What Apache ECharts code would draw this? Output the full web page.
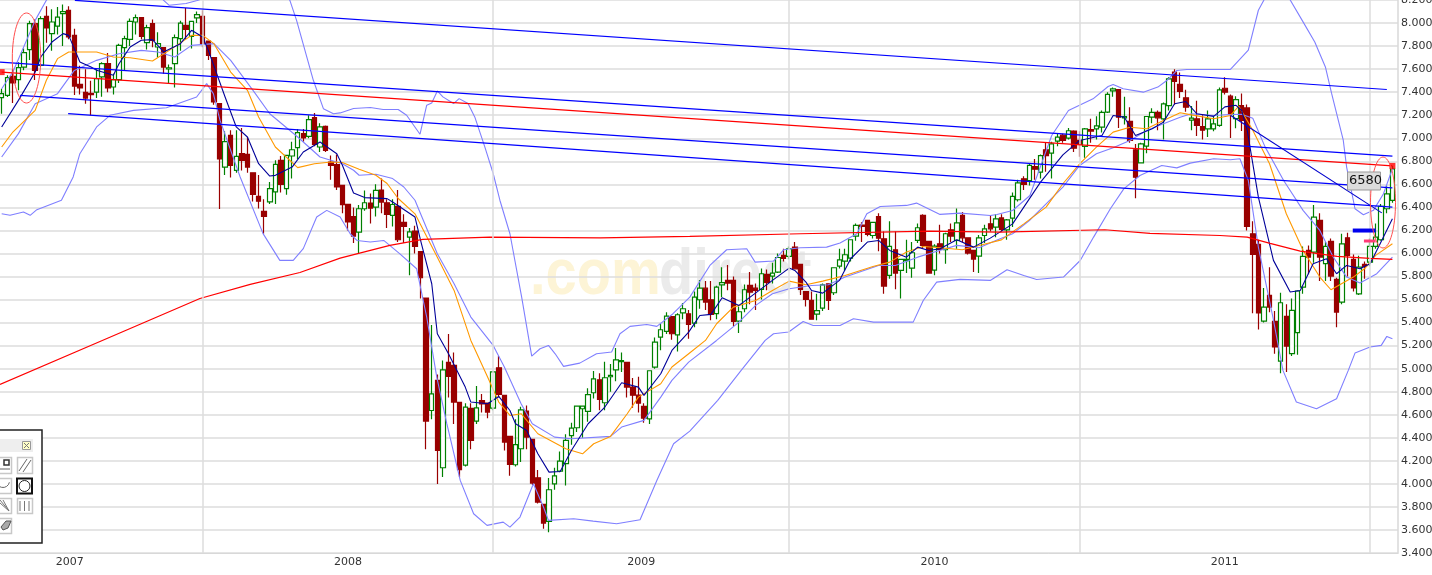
<!DOCTYPE html>
<html><head><meta charset="utf-8"><style>html,body{margin:0;padding:0;background:#fff;overflow:hidden}#c{width:1432px;height:575px}</style>
<script src="https://cdn.jsdelivr.net/npm/echarts@6/dist/echarts.min.js"></script></head><body><div id="c"></div>
<script>
// weekly candles: open, close, low, high
const candles=[
[7352,7387,7213,7430],[7373,7526,7358,7546],[7537,7480,7306,7600],[7508,7613,7416,7660],[7618,7743,7590,7780],[7769,7995,7680,8020],[7995,7590,7506,8030],[7633,8038,7620,8060],[8058,7957,7830,8145],[7908,8009,7760,8120],
[7974,8052,7900,8140],[8081,8099,7800,8160],[8110,7879,7860,8145],[7893,7453,7375,7950],[7468,7436,7380,7630],[7398,7349,7300,7600],[7390,7378,7200,7500],[7401,7517,7350,7600],[7532,7647,7360,7660],[7647,7436,7400,7740],
[7445,7508,7380,7560],[7508,7806,7480,7820],[7786,7864,7590,7890],[7859,8015,7800,8040],[8009,8047,7900,8075],[8047,7885,7860,8047],[7830,7960,7770,7985],[7995,7850,7790,8030],[7792,7821,7700,7920],[7786,7618,7560,7786],
[7601,7612,7470,7640],[7647,7873,7440,7900],[7864,8000,7760,8020],[7980,7945,7860,8130],[7884,8015,7780,8015],[8044,8073,8000,8100],[8058,7821,7790,8110],[7844,7720,7680,7844],[7700,7315,7290,7700],[7300,6820,6385,7300],
[6750,6970,6680,7060],[7025,6765,6660,7070],[6722,6843,6700,7070],[6866,6808,6720,7090],[6860,6750,6700,7010],[6700,6513,6450,6700],[6496,6453,6390,6680],[6366,6322,6170,6470],[6447,6562,6430,6620],[6534,6774,6430,6810],
[6808,6600,6530,6845],[6562,6852,6510,6852],[6846,6900,6650,6970],[6918,7048,6820,7080],[7040,7002,6970,7080],[7017,7161,7000,7200],[7179,6947,6930,7220],[6924,7098,6880,7130],[7103,6895,6880,7110],[6794,6765,6640,6850],
[6771,6577,6550,6860],[6591,6424,6350,6590],[6426,6273,6200,6426],[6321,6151,6090,6400],[6185,6388,5995,6420],[6388,6440,6370,6547],[6437,6394,6260,6520],[6402,6547,6320,6600],[6550,6446,6350,6650],[6440,6339,6220,6470],
[6330,6425,6235,6470],[6408,6119,6100,6550],[6270,6235,6090,6340],[6142,6188,5810,6220],[6194,6061,6000,6240],[6017,5789,5610,6017],[5613,4545,4300,5613],[4637,4782,4560,5380],[4898,4290,4000,4950],[4140,4990,4060,5070],
[5054,4933,4750,5300],[5028,4710,4520,5140],[4707,4123,4060,4707],[4163,4667,4150,4700],[4655,4377,4300,4700],[4545,4660,4520,4850],[4722,4695,4620,4780],[4701,4623,4570,4701],[4658,4973,4640,4973],[5008,4776,4750,5110],
[4768,4363,4290,4768],[4412,4169,4070,4412],[4166,4340,4150,4560],[4305,4643,4190,4670],[4632,4406,4300,4680],[4386,4007,3990,4386],[4053,3842,3830,4120],[3822,3660,3610,3822],[3674,3949,3580,4050],[4000,4070,3950,4140],
[4111,4198,4100,4280],[4175,4377,3985,4430],[4418,4484,4340,4530],[4487,4675,4450,4675],[4652,4675,4400,4675],[4629,4774,4540,4830],[4791,4912,4740,4980],[4904,4733,4640,4960],[4704,4921,4640,5060],[4930,4941,4800,5040],
[4990,5077,4890,5180],[5060,5069,4970,5140],[5054,4840,4750,5054],[4840,4770,4660,4920],[4770,4701,4620,4930],[4672,4571,4530,4700],[4565,4982,4520,4982],[5014,5231,5000,5270],[5274,5338,5160,5390],[5323,5456,5300,5490],
[5453,5303,5250,5453],[5294,5468,5150,5480],[5485,5520,5430,5570],[5476,5384,5260,5510],[5396,5621,5360,5670],[5598,5699,5520,5770],[5699,5578,5510,5760],[5598,5471,5420,5760],[5477,5708,5430,5720],[5728,5746,5620,5880],
[5766,5743,5680,5900],[5766,5410,5370,5800],[5413,5494,5310,5540],[5520,5685,5490,5730],[5723,5665,5560,5840],[5699,5679,5510,5740],[5688,5824,5600,5870],[5818,5749,5680,5860],[5803,5830,5740,5920],[5838,5965,5830,6000],
[5983,5957,5930,6040],[5974,6041,5950,6060],[6055,5867,5860,6100],[5905,5688,5640,5905],[5670,5601,5540,5670],[5592,5430,5430,5670],[5474,5503,5420,5650],[5526,5728,5500,5740],[5737,5592,5510,5740],[5659,5876,5640,5880],
[5890,5945,5870,6040],[5934,5989,5850,6040],[5960,6119,5930,6119],[6151,6243,6110,6260],[6246,6235,6100,6270],[6287,6165,6150,6290],[6156,6269,6130,6270],[6321,6133,6020,6350],[6127,5717,5650,6190],[5809,6061,5780,6280],
[6032,5830,5690,6190],[5853,5948,5610,5950],[5937,5948,5830,6120],[5873,6006,5790,6100],[6113,6223,6090,6260],[6330,6070,6040,6340],[6105,5830,5830,6105],[5856,6064,5810,6080],[6084,6035,6000,6250],[6032,6171,5910,6180],
[6206,6151,6100,6260],[6113,6266,6040,6390],[6330,6136,6100,6360],[6136,6003,5990,6136],[6026,5951,5840,6026],[5977,6136,5830,6160],[6156,6214,6090,6250],[6257,6214,6190,6330],[6228,6301,6140,6340],[6308,6208,6190,6340],
[6205,6292,6120,6300],[6307,6495,6230,6530],[6466,6613,6450,6640],[6648,6599,6550,6670],[6633,6764,6590,6780],[6755,6732,6640,6820],[6706,6850,6650,6860],[6900,6850,6710,6960],[6871,6952,6650,6970],[6975,7010,6930,7040],
[7027,6981,6960,7040],[7001,7065,6990,7090],[7062,6914,6880,7070],[6981,6946,6840,7060],[6929,7082,6830,7090],[7076,7062,6960,7170],[7082,7108,6990,7190],[7096,7224,7050,7240],[7227,7380,7220,7400],[7412,7429,7360,7440],
[7423,7183,7090,7423],[7177,7189,7120,7360],[7146,6981,6960,7270],[6900,6662,6480,6950],[6787,6952,6780,6960],[6931,7189,6870,7190],[7183,7224,7130,7260],[7224,7177,7070,7240],[7169,7299,6990,7310],[7284,7516,7240,7530],
[7574,7493,7290,7600],[7467,7406,7350,7570],[7351,7270,7230,7420],[7157,7175,7070,7280],[7169,7111,7020,7325],[7102,7070,6990,7200],[7082,7169,7010,7240],[7082,7125,7060,7190],[7111,7420,7100,7440],[7434,7400,7380,7530],
[7365,7214,7003,7380],[7171,7336,7087,7365],[7284,7156,7063,7388],[7263,6235,6200,7293],[6171,5992,5480,6280],[6079,5483,5340,6120],[5413,5534,5400,5700],[5636,5535,5490,5880],[5410,5188,5130,5500],[5066,5572,4960,5660],
[5454,5196,4970,5560],[5130,5506,5110,5610],[5312,5674,5120,5680],[5708,5974,5650,6060],[6027,5969,5820,6070],[6012,6316,5920,6420],[6287,5969,5760,6350],[5911,6061,5760,6100],[6105,5804,5760,6130],[5775,5491,5360,5790],
[5578,6084,5560,6170],[6136,5983,5800,6180],[5948,5700,5670,5990],[5650,5882,5640,5980],[5905,5888,5780,5930],[5925,6061,5890,6130],[6061,6142,6040,6260],[6119,6408,6110,6430],[6388,6518,6350,6590],[6461,6735,6440,6760]
];
// overlays: [week, value] read at turning points
const fastMA=[[0,7098],[3,7329],[6,7575],[7,7705],[9,7835],[11,7908],[12,7893],[13,7778],[14,7662],[16,7618],[17,7590],[20,7546],[21,7647],[23,7792],[25,7850],[27,7856],[29,7749],[32,7821],[34,7937],[36,7879],[37,7763],[40,7358],[42,7098],[44,7011],[46,6779],[48,6672],[49,6678],[52,6750],[54,6881],[57,6967],[60,6866],[61,6766],[63,6525],[65,6485],[69,6476],[70,6446],[74,6316],[75,6113],[77,5737],[78,5303],[80,5129],[83,4840],[84,4710],[87,4695],[89,4759],[91,4637],[92,4522],[94,4464],[96,4261],[98,4102],[100,4108],[102,4290],[105,4522],[108,4667],[111,4878],[114,4840],[115,4768],[118,4956],[120,5158],[123,5317],[125,5462],[127,5471],[129,5615],[132,5549],[134,5621],[138,5766],[141,5873],[142,5853],[144,5751],[145,5679],[147,5656],[150,5766],[152,5954],[155,6099],[157,6113],[159,6026],[162,5968],[164,6055],[166,6026],[168,6041],[171,6119],[174,6055],[177,6133],[179,6194],[181,6257],[186,6619],[190,6856],[193,6981],[197,7024],[199,7198],[201,7183],[203,7024],[206,7082],[208,7140],[210,7299],[212,7319],[214,7212],[217,7190],[219,7272],[221,7286],[222,7243],[223,7070],[224.5,6635],[225,6489],[227.7,5940],[230.7,5665],[232.5,5679],[234.8,5911],[237.2,5954],[239,5824],[240.8,5896],[243.2,5867],[245,5911],[246.8,6084],[249,6301]];
const slowMA=[[0,6924],[2,7054],[6,7242],[8,7503],[10,7691],[12,7749],[17,7749],[20,7705],[23,7699],[27,7670],[30,7763],[34,7893],[36,7893],[38,7821],[41,7575],[44,7416],[46,7184],[49,6924],[53,6745],[56,6779],[59,6794],[61,6789],[64,6731],[67,6679],[69,6607],[71,6477],[74,6344],[78,5968],[81,5679],[84,5245],[87,4927],[89,4710],[91,4594],[93,4609],[96,4435],[101,4305],[104,4261],[106,4348],[109,4412],[112,4609],[114,4753],[118,4869],[120,5014],[123,5129],[126,5245],[128,5390],[131,5534],[135,5592],[138,5679],[141,5760],[144,5728],[147,5760],[151,5809],[156,5887],[159,5925],[162,6012],[165,6061],[168,6049],[172,6032],[175,6069],[179,6118],[183,6257],[187,6402],[190,6605],[193,6778],[196,6923],[199,7053],[202,7096],[205,7082],[208,7154],[211,7221],[213,7203],[217,7169],[220,7198],[221.5,7278],[224,7070],[227,6779],[230,6345],[233,6027],[236,5795],[238,5685],[242,5795],[244,5867],[246,5983],[249,6084]];
const midBand=[[0,6837],[3,7040],[6,7300],[10,7387],[13,7589],[17,7676],[21,7734],[25,7763],[28,7749],[31,7705],[34,7806],[38,7821],[41,7676],[45,7416],[48,7213],[53,7011],[57,6837],[61,6779],[63,6722],[64,6679],[67,6688],[70,6650],[72,6577],[74,6462],[75,6344],[78,5997],[81,5737],[84,5448],[88,5202],[90,5014],[93,4695],[95,4522],[99,4406],[102,4392],[109,4412],[111,4493],[115,4551],[118,4753],[120,4898],[123,5057],[128,5245],[132,5404],[135,5549],[138,5650],[141,5693],[145,5722],[148,5728],[151,5795],[157,5896],[160,5896],[164,5968],[167,6012],[171,6070],[175,6049],[178,6113],[181,6171],[184,6286],[187,6431],[190,6576],[193,6764],[196,6865],[199,6917],[202,6981],[205,7067],[208,7125],[211,7183],[213,7212],[217,7198],[220,7206],[222,7208],[224,7173],[226.2,6925],[229.5,6635],[233,6374],[236,6200],[238.4,5969],[240.8,5795],[243.2,5743],[246.2,5824],[249,5969]];
const upperBand=[[0,7430],[2,7575],[6,8023],[8,8197],[12,8500],[20,8550],[27,8300],[29,8197],[30,8154],[33,8170],[35,8195],[37,8230],[42,8400],[48,8400],[51.6,8197],[52.8,8023],[55.8,7503],[57.6,7257],[59.4,7213],[60.6,7220],[63,7258],[66,7267],[68.3,7249],[71,7249],[72.5,7200],[74.9,7035],[76.1,7287],[77,7306],[78,7411],[79,7359],[80.9,7301],[81.9,7344],[83.5,7301],[84.7,7185],[86.5,6925],[88,6694],[89.2,6462],[91,6171],[93.1,5621],[94.9,5109],[96.4,5173],[97.9,5202],[99.1,5129],[100.6,5020],[103.5,5048],[106.5,5129],[109.2,5144],[110.7,5303],[112.5,5367],[115.5,5384],[117.3,5367],[120.2,5477],[123.2,5621],[126.8,5896],[129.8,6032],[133.4,6041],[134.9,5925],[138.2,5934],[140,6032],[143,6049],[147.7,6055],[150.1,6090],[153.1,6171],[154.9,6344],[157.3,6408],[162,6417],[163.8,6437],[168,6339],[171.6,6350],[177,6330],[178.2,6338],[181,6373],[184.1,6503],[188,7024],[191,7241],[195.4,7342],[198.1,7449],[199,7467],[200.8,7429],[204.4,7400],[207,7444],[208.6,7501],[210.4,7588],[212.2,7597],[220,7597],[223.2,7764],[225,8111],[226,8200],[229,8500],[230.7,8200],[233,8010],[235.1,7836],[237,7619],[238.1,7391],[240.2,6983],[240.8,6750],[242.3,6388],[243.8,6336],[245.6,6374],[247.4,6518],[249,6735]];
const lowerBand=[[0,6345],[1.5,6331],[3.9,6360],[5.1,6331],[6.3,6380],[10.7,6461],[12.8,6664],[14,6866],[17,7098],[19.4,7199],[23.6,7242],[29.5,7265],[34.9,7358],[36.7,7474],[37.9,7387],[39.1,7155],[42.7,6664],[46.8,6172],[49.8,5940],[52.2,5940],[54,6042],[56.4,6317],[58.2,6374],[60.6,6317],[62.4,6171],[63.6,6113],[66,6099],[68.4,6113],[71.3,5997],[74.3,5867],[76.1,5448],[77.9,4927],[79.7,4522],[82.1,4030],[84.5,3741],[86.9,3640],[89.8,3668],[91,3625],[92.8,3712],[95.2,4001],[97,3799],[97.9,3683],[102.4,3697],[105.9,3677],[110.1,3654],[114.3,3689],[117.3,4030],[120.3,4348],[123.2,4458],[128.2,4725],[132.4,4985],[136.7,5245],[138.2,5303],[140.9,5318],[143.5,5410],[145.3,5375],[150.1,5375],[152.5,5433],[156.1,5404],[163.2,5404],[165,5592],[167.4,5751],[171.6,5775],[177,5766],[180,5858],[183,5809],[185.3,5774],[190.1,5795],[193.1,5939],[195.5,6142],[198.5,6388],[200.9,6561],[203.8,6677],[207.7,6764],[210.4,6743],[212.8,6784],[217,6822],[220,6813],[221.7,6822],[223.2,6634],[225,6055],[227.6,5448],[229.4,4985],[231.8,4710],[235.4,4652],[239,4739],[241.1,4985],[242.3,5135],[245,5188],[247,5202],[248,5280],[249,5260]];
const longMA=[[-0.3,4863],[17.6,5236],[35.5,5609],[44.5,5731],[53.4,5835],[60.6,5959],[69.5,6070],[75.4,6122],[87.4,6142],[107.2,6135],[123.2,6148],[143,6171],[166.2,6194],[178.7,6185],[197.5,6206],[205.6,6174],[218.1,6156],[223,6142],[227.1,6087],[232.5,6020],[239.1,5974],[245,5957],[249,5948]];
// drawn trend lines
const trendA=[[13.1,8197],[248,7423]];
const trendB=[[-0.3,7660],[249,6844]];
const trendRed=[[0,7574],[249,6760]];
const trendD=[[3.3,7372],[249,6570]];
const trendE=[[11.9,7213],[249,6402]];
const trendFall=[[220,7200],[247.1,6352]];
const levelBlue=[[241.9,6199],[246,6199]];
const levelPink=[[243.9,6109],[246,6109]];
// axis text
const yearLabels=['2007','2008','2009','2010','2011'];
const yearCentres=[12.2,62,114.5,167,219];
const yearStarts=[36,88,141,193,245];
const calloutText='6580';

const FONT='"DejaVu Sans"';
const chart=echarts.init(document.getElementById('c'),null,{renderer:'canvas'});
function lineS(data,color,width,z){return {type:'line',data,symbol:'none',silent:true,animation:false,z,lineStyle:{color,width}};}

const G='#c8c8c8';
function btn(x,y,w,h,stroke){return {type:'rect',z:101,shape:{x:x+.5,y:y+.5,width:w,height:h},style:{fill:'#fff',stroke:stroke||G,lineWidth:stroke?2:1.5}};}
function seg(x1,y1,x2,y2,c,lw){return {type:'line',z:102,shape:{x1,y1,x2,y2},style:{stroke:c||'#666',lineWidth:lw||1}};}
const graphic=[
 {type:'text',z:-1,x:530,y:309,scaleY:1.17,style:{text:'.com',verticalAlign:'bottom',font:'bold 56px "Liberation Sans"',fill:'#fdf4d6'}},
 {type:'text',z:-1,x:659,y:309,scaleY:1.17,style:{text:'direct',verticalAlign:'bottom',font:'bold 56px "Liberation Sans"',fill:'#ebebeb'}},
 {type:'ellipse',z:50,shape:{cx:26.5,cy:58,rx:14.2,ry:45},style:{fill:'none',stroke:'#ff4d4d',lineWidth:1}},
 {type:'ellipse',z:50,shape:{cx:1383,cy:202.5,rx:12.5,ry:45.5},style:{fill:'none',stroke:'#ff4d4d',lineWidth:1}},
 {type:'rect',z:60,shape:{x:1347.5,y:172,width:33,height:18},style:{fill:'#dcdcdc',stroke:'#999',lineWidth:1}},
 {type:'text',z:61,left:1349,top:174,style:{text:calloutText,font:'13px "DejaVu Sans"',fill:'#111'}},
 {type:'rect',z:100,shape:{x:-3,y:430,width:45,height:113},style:{fill:'#fff',stroke:'#222',lineWidth:1.5}},
 {type:'rect',z:101,shape:{x:0,y:439,width:33,height:13},style:{fill:'#eeeeee'}},
 {type:'rect',z:102,shape:{x:22.5,y:441.5,width:8,height:8},style:{fill:'#ffffc8',stroke:'#999',lineWidth:1}},
 seg(24,443,29,448,'#777'),seg(29,443,24,448,'#777'),
 btn(-3,457,14,16),btn(17,457,15,16),btn(16.5,478,15,15,'#111'),btn(-3,478,14,15),btn(-3,498,14,15),btn(17,498,15,15),btn(-3,518,14,15),
 seg(19,471,27,459,'#666'),seg(23,472,31,460,'#666'),
 {type:'circle',z:102,shape:{cx:24.5,cy:486,r:5.5},style:{fill:'#fff',stroke:'#222',lineWidth:1}},
 seg(20,501,20,511,'#777'),seg(24.5,501,24.5,511,'#777'),seg(29,501,29,511,'#777'),
 {type:'rect',z:102,shape:{x:4,y:460,width:5,height:5},style:{fill:'#fff',stroke:'#333',lineWidth:1.5}},
 seg(0,469,10,469,'#666'),
 {type:'arc',z:102,shape:{cx:3,cy:481,r:6.5,startAngle:0.2,endAngle:2.4},style:{stroke:'#666',fill:'none',lineWidth:1}},
 seg(0,500,9,511,'#777'),seg(0,503,9,511,'#777'),seg(3,500,9,511,'#777'),
 {type:'polygon',z:102,shape:{points:[[1,527],[6,521],[11,521],[8,528],[3,530]]},style:{fill:'#aaa',stroke:'#555',lineWidth:1}}
];

chart.setOption({
 animation:false,backgroundColor:'#fff',graphic,
 grid:{left:0,right:34,top:0,height:553,containLabel:false,outerBoundsMode:'none'},
 xAxis:{type:'value',min:-0.3,max:250,
  axisLine:{show:true,onZero:false,lineStyle:{color:'#d8d8d8',width:1}},
  axisTick:{show:false},
  splitLine:{show:false},
  axisLabel:{customValues:yearCentres,margin:4,color:'#333',fontFamily:FONT,fontSize:11,
   formatter:v=>yearLabels[yearCentres.indexOf(v)]||''}},
 yAxis:{type:'value',position:'right',min:3400,max:8200,interval:200,
  axisLine:{show:true,onZero:false,lineStyle:{color:'#d8d8d8',width:1.5}},axisTick:{show:false},
  splitLine:{show:true,lineStyle:{color:'#dcdcdc',width:1.5}},
  axisLabel:{margin:3,color:'#333',fontFamily:FONT,fontSize:11,formatter:v=>(v/1000).toFixed(3)}},
 series:[
  {type:'line',data:[],z:1,silent:true,markLine:{silent:true,symbol:'none',animation:false,label:{show:false},lineStyle:{color:'#dcdcdc',width:1.5,type:'solid'},data:yearStarts.map(x=>({xAxis:x}))}},
  {type:'candlestick',z:2,silent:true,animation:false,barWidth:5,clip:true,
   data:candles.map((r,i)=>[i,r[0],r[1],r[2],r[3]]),
   itemStyle:{color:'#ffffff',color0:'#990000',borderColor:'#008000',borderColor0:'#990000',borderWidth:1.2}},
  lineS(upperBand,'#7f7fff',1.1,3),lineS(midBand,'#7f7fff',1.1,3),lineS(lowerBand,'#7f7fff',1.1,3),
  lineS(slowMA,'#ff9900',1.1,4),lineS(fastMA,'#000099',1.1,4),lineS(longMA,'#ff0000',1.2,4),
  lineS(trendA,'#0000ff',1.2,5),lineS(trendB,'#0000ff',1.2,5),lineS(trendRed,'#ff0000',1.2,5),lineS(trendD,'#0000ff',1.2,5),lineS(trendE,'#0000ff',1.2,5),lineS(trendFall,'#0000cc',1.1,5),
  lineS(levelBlue,'#0000ee',4,6),lineS(levelPink,'#ff3c78',3,6),
  {type:'scatter',z:7,silent:true,symbol:'rect',symbolSize:6,itemStyle:{color:'#ff0000'},data:trendRed}
 ]
});
</script></body></html>
